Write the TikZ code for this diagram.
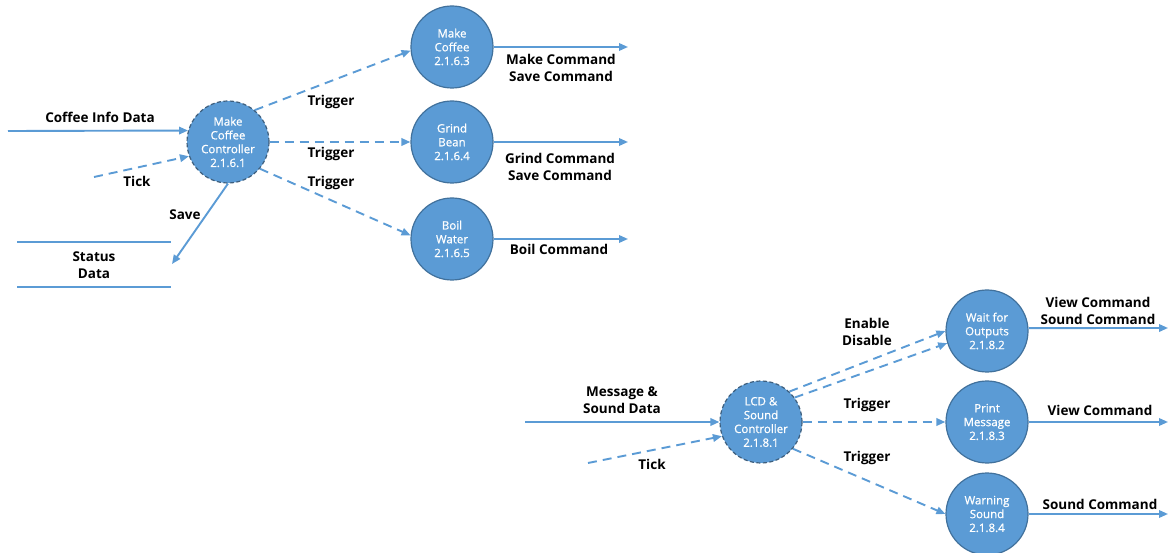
\documentclass[tikz,border=0pt]{standalone}
\usepackage{fontspec}
\setmainfont{Open Sans}
\newfontfamily\circfont{Open Sans}[FakeBold=0.8]
\usetikzlibrary{arrows.meta}
\definecolor{flow}{HTML}{5B9BD5}
\definecolor{rim}{HTML}{41719C}
\definecolor{ctlrim}{HTML}{3E5F7E}
\tikzset{
  proc/.style={circle, fill=flow, draw=rim, line width=1.2pt, minimum size=82pt, inner sep=0pt,
    align=center, text=white, font=\circfont\fontsize{11.5}{13.8}\selectfont},
  ctl/.style={proc, draw=ctlrim, dash pattern=on 4pt off 2.5pt},
  lbl/.style={align=center, font=\fontsize{13.5}{17}\selectfont\bfseries, text=black},
  flowline/.style={draw=flow, line width=1.9pt, -{Triangle[length=9pt,width=7.5pt]}},
  ctrlline/.style={flowline, dash pattern=on 9pt off 6pt},
  storeline/.style={draw=flow, line width=1.9pt}
}
\begin{document}
\begin{tikzpicture}[x=1pt,y=-1pt]
\useasboundingbox (0,0) rectangle (1168,553);

% ---- Make Coffee subsystem ----
\node[ctl]  (mcc)   at (228,142) {Make\\Coffee\\Controller\\2.1.6.1};
\node[proc] (make)  at (452,47)  {Make\\Coffee\\2.1.6.3};
\node[proc] (grind) at (452,142) {Grind\\Bean\\2.1.6.4};
\node[proc] (boil)  at (452,239) {Boil\\Water\\2.1.6.5};

\coordinate (cin)   at (8,131);
\coordinate (tick1) at (94,177);
\coordinate (savep) at (172,264);
\coordinate (mkout) at (628,47);
\coordinate (grout) at (628,142);
\coordinate (bwout) at (628,239);

\draw[flowline] (cin) -- (mcc.164);
\draw[ctrlline] (tick1) -- (mcc.200);
\draw[flowline] (mcc.south) -- (savep);
\draw[ctrlline] (mcc.50) -- (make.185);
\draw[ctrlline] (mcc.east) -- (grind.west);
\draw[ctrlline] (mcc.-40) -- (boil.175);
\draw[flowline] (make.east) -- (mkout);
\draw[flowline] (grind.east) -- (grout);
\draw[flowline] (boil.east) -- (bwout);

% data store
\coordinate (st1) at (17,242);
\coordinate (st2) at (171,242);
\coordinate (st3) at (17,287);
\coordinate (st4) at (171,287);
\draw[storeline] (st1) -- (st2);
\draw[storeline] (st3) -- (st4);
\node[lbl] (store) at (94,265) {Status\\Data};

\node[lbl] (lcin)  at (100,117) {Coffee Info Data};
\node[lbl] (ltk1)  at (137,181) {Tick};
\node[lbl] (lsave) at (185,215) {Save};
\node[lbl] (ltr1)  at (331,102) {Trigger};
\node[lbl] (ltr2)  at (331,154) {Trigger};
\node[lbl] (ltr3)  at (331,183) {Trigger};
\node[lbl] (lmk)   at (561,68)  {Make Command\\Save Command};
\node[lbl] (lgr)   at (560,167) {Grind Command\\Save Command};
\node[lbl] (lbw)   at (559,249) {Boil Command};

% ---- LCD & Sound subsystem ----
\node[ctl]  (lcd)   at (761,422) {LCD \&\\Sound\\Controller\\2.1.8.1};
\node[proc] (wait)  at (987,331) {Wait for\\Outputs\\2.1.8.2};
\node[proc] (print) at (987,422) {Print\\Message\\2.1.8.3};
\node[proc] (warn)  at (987,514) {Warning\\Sound\\2.1.8.4};

\coordinate (msin)  at (525,422);
\coordinate (tick2) at (588,463);
\coordinate (wtout) at (1168,328);
\coordinate (prout) at (1168,422);
\coordinate (wnout) at (1168,514);

\draw[flowline] (msin) -- (lcd.west);
\draw[ctrlline] (tick2) -- (lcd.200);
\draw[ctrlline] (lcd.47) -- (wait.180);
\draw[ctrlline] (lcd.36) -- (wait.197);
\draw[ctrlline] (lcd.east) -- (print.west);
\draw[ctrlline] (lcd.-40) -- (warn.west);
\draw[flowline] (wait.4) -- (wtout);
\draw[flowline] (print.east) -- (prout);
\draw[flowline] (warn.east) -- (wnout);

\node[lbl] (lmsg)  at (622,400) {Message \&\\Sound Data};
\node[lbl] (ltk2)  at (652,464) {Tick};
\node[lbl] (len)   at (867,332) {Enable\\Disable};
\node[lbl] (ltr4)  at (867,405) {Trigger};
\node[lbl] (ltr5)  at (867,458) {Trigger};
\node[lbl] (lwt)   at (1098,311) {View Command\\Sound Command};
\node[lbl] (lpr)   at (1100,410) {View Command};
\node[lbl] (lwn)   at (1100,504) {Sound Command};
\end{tikzpicture}
\end{document}
